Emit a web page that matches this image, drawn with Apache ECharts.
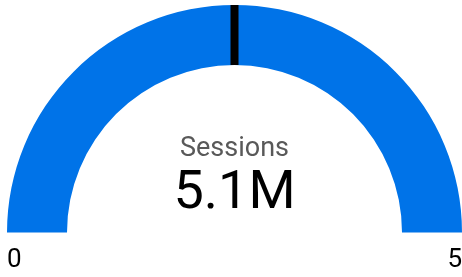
<!DOCTYPE html>
<html>
<head>
<meta charset="utf-8">
<script src="https://cdn.jsdelivr.net/npm/echarts@6/dist/echarts.min.js"></script>
<style>
  html, body { margin: 0; padding: 0; background: #fff; }
  #gauge { width: 462px; height: 277px; }
</style>
</head>
<body>
<div id="gauge"></div>
<script>
// 数据
const gaugeMin = 0;
const gaugeMax = 5;
const tickLabels = ["0", "5"];
const metricName = "Sessions";
const metricValue = [5.1];
const markerValue = [2.5];

const blue = "#0073E8";
const fontFamily = "Roboto, 'Noto Sans', sans-serif";

const chart = echarts.init(document.getElementById("gauge"));

const option = {
  animation: false,
  series: [
    {
      type: "gauge",
      startAngle: 180,
      endAngle: 0,
      min: gaugeMin,
      max: gaugeMax,
      splitNumber: tickLabels.length - 1,
      center: [234.5, 232.5],
      radius: 227.5,
      axisLine: {
        lineStyle: { width: 60, color: [[1, blue]] },
      },
      progress: { show: false },
      pointer: { show: false },
      anchor: { show: false },
      axisTick: { show: false },
      splitLine: { show: false, length: 0, distance: 0 },
      axisLabel: {
        distance: 0,
        color: "#000",
        fontSize: 26,
        lineHeight: 56,
        fontFamily: fontFamily,
        // 空行把刻度文字压到弧线下方
        formatter: (v) => "\n" + tickLabels[Math.round((v - gaugeMin) / (gaugeMax - gaugeMin) * (tickLabels.length - 1))],
      },
      title: {
        offsetCenter: [0, -83],
        color: "#595959",
        fontSize: 27,
        fontFamily: fontFamily,
      },
      detail: {
        offsetCenter: [0, -38],
        color: "#000",
        fontSize: 54,
        fontWeight: "normal",
        fontFamily: fontFamily,
        formatter: "{value}M",
      },
      data: [{ value: metricValue[0], name: metricName }],
    },
    {
      // 目标标记
      type: "gauge",
      startAngle: 180,
      endAngle: 0,
      min: gaugeMin,
      max: gaugeMax,
      center: [234.5, 232.5],
      radius: 227.5,
      axisLine: { show: false },
      axisTick: { show: false },
      splitLine: { show: false },
      axisLabel: { show: false },
      anchor: { show: false },
      title: { show: false },
      detail: { show: false },
      pointer: {
        icon: "rect",
        width: 8,
        length: 60,
        offsetCenter: [0, -167.5],
        itemStyle: { color: "#000" },
      },
      data: [{ value: markerValue[0] }],
    },
  ],
};

chart.setOption(option);
window.onresize = () => {
  chart.resize();
};
</script>
</body>
</html>
